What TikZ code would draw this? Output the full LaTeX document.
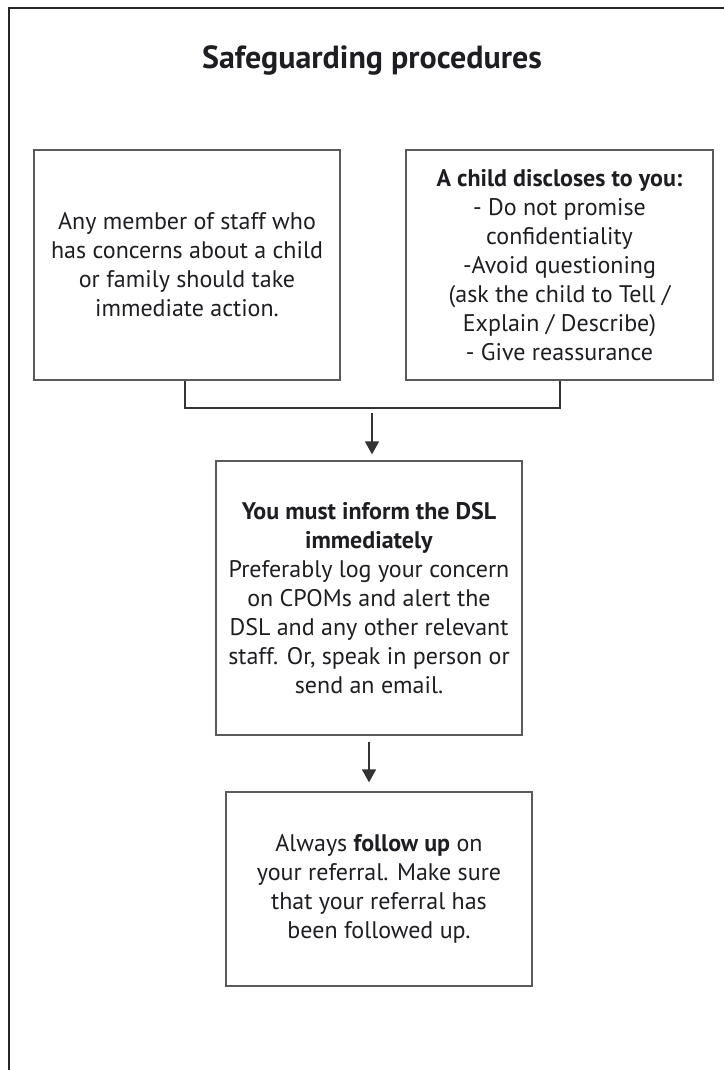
\documentclass[tikz,border=0pt]{standalone}
\usepackage{fontspec}
\setmainfont{PT Sans}
\usetikzlibrary{arrows.meta}
\definecolor{textc}{HTML}{1E1E22}
\definecolor{boxgray}{HTML}{5A5A5A}
\definecolor{linec}{HTML}{333333}
\begin{document}
\begin{tikzpicture}[x=1pt,y=-1pt,
  box/.style={draw=boxgray, line width=1.3pt, inner sep=0pt, align=center,
    font=\fontsize{24}{29}\selectfont, text=textc},
  conn/.style={draw=linec, line width=1.5pt},
  arr/.style={conn, -{Triangle[width=14pt,length=13pt]}},
  framec/.style={draw=black!85, line width=2pt},
  titlec/.style={font=\fontsize{32}{36}\selectfont\bfseries, text=textc}]
\useasboundingbox (0,0) rectangle (723,1070);
\draw[framec] (9,1072) -- (9,8) -- (725,8);
\node[titlec] (title) at (372,60) {Safeguarding procedures};
\node[box, minimum width=306pt, minimum height=230pt] (b1) at (187,265)
  {Any member of staff who\\has concerns about a child\\or family should take\\immediate action.};
\node[box, minimum width=307pt, minimum height=230pt] (b2) at (559.5,265)
  {\textbf{A child discloses to you:}\\- Do not promise\\confidentiality\\-Avoid questioning\\(ask the child to Tell /\\Explain / Describe)\\- Give reassurance};
\node[box, minimum width=306pt, minimum height=274pt] (b3) at (369,598)
  {\textbf{You must inform the DSL}\\\textbf{immediately}\\Preferably log your concern\\on CPOMs and alert the\\DSL and any other relevant\\staff. Or, speak in person or\\send an email.};
\node[box, minimum width=306pt, minimum height=194pt] (b4) at (379,889)
  {Always \textbf{follow up} on\\your referral. Make sure\\that your referral has\\been followed up.};
\coordinate (m) at (372,408);
\draw[conn] (b1.south -| 185,0) |- (m) -| (b2.south -| 560,0);
\draw[arr, shorten <=5pt, shorten >=6pt] (m) -- (m |- b3.north);
\draw[arr, shorten <=6pt, shorten >=9pt] (b3.south) -- (b3.south |- b4.north);
\end{tikzpicture}
\end{document}
